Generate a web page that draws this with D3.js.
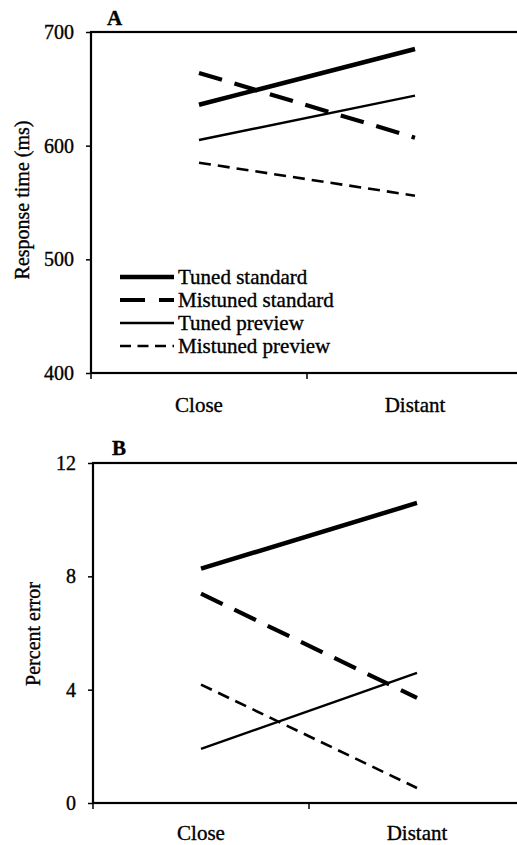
<!DOCTYPE html>
<html><head><meta charset="utf-8">
<script src="https://cdn.jsdelivr.net/npm/d3@7"></script>
<style>
body{margin:0;background:#fff;}
svg{display:block;}
text{font-family:"Liberation Serif","Times New Roman",serif;fill:#000;stroke:#000;stroke-width:0.35px;}
</style></head>
<body>
<script>
const categories = ["Close", "Distant"];
const seriesNames = ["Tuned standard", "Mistuned standard", "Tuned preview", "Mistuned preview"];
const rtValues = [[636, 685], [664, 607], [605, 644], [585, 556]];
const errValues = [[8.27, 10.59], [7.39, 3.71], [1.91, 4.59], [4.18, 0.53]];
const rtTicks = [400, 500, 600, 700];
const errTicks = [0, 4, 8, 12];

const styles = [
  {w: 4.5, dash: null},
  {w: 4.2, dash: "24,13"},
  {w: 2.4, dash: null},
  {w: 2.6, dash: "12,7"}
];

const svg = d3.select("body").append("svg").attr("width", 517).attr("height", 845);

function panel(cfg) {
  const g = svg.append("g");
  const x = d3.scaleBand().domain(categories).range([cfg.left, cfg.left + 432]);
  const y = d3.scaleLinear().domain(cfg.domain).range([cfg.bottom, cfg.top]);
  // frame
  g.append("rect").attr("x", cfg.left).attr("y", cfg.top)
    .attr("width", 440).attr("height", cfg.bottom - cfg.top)
    .attr("fill", "none").attr("stroke", "#000").attr("stroke-width", 2.2);
  // y axis
  const ya = g.append("g").attr("transform", `translate(${cfg.left},0)`)
    .call(d3.axisLeft(y).tickValues(cfg.ticks).tickSize(5).tickPadding(12));
  ya.select(".domain").remove();
  ya.selectAll("line").attr("stroke-width", 1.5);
  ya.selectAll("text").attr("font-size", 20);
  // x axis ticks at band boundaries
  const xa = g.append("g").attr("transform", `translate(0,${cfg.bottom})`);
  const bounds = [cfg.left, x("Distant")];
  xa.selectAll("line").data(bounds).join("line")
    .attr("x1", d => d).attr("x2", d => d).attr("y1", 0).attr("y2", 6)
    .attr("stroke", "#000").attr("stroke-width", 1.5);
  xa.selectAll("text").data(categories).join("text")
    .attr("x", d => x(d) + x.bandwidth() / 2).attr("y", cfg.catY - cfg.bottom)
    .attr("text-anchor", "middle").attr("font-size", 21).text(d => d);
  // panel letter
  g.append("text").attr("x", cfg.letterX).attr("y", cfg.letterY)
    .attr("font-size", 21).attr("font-weight", "bold").text(cfg.letter);
  // y title
  g.append("text").attr("transform", `translate(${cfg.titleX},${cfg.titleY}) rotate(-90)`)
    .attr("text-anchor", "middle").attr("font-size", 20).text(cfg.title);
  // lines
  const line = d3.line().x((d, i) => x(categories[i]) + x.bandwidth() / 2).y(d => y(d));
  cfg.values.forEach((vals, i) => {
    g.append("path").attr("d", line(vals)).attr("fill", "none")
      .attr("stroke", "#000").attr("stroke-width", styles[i].w)
      .attr("stroke-dasharray", styles[i].dash);
  });
  return {g, x, y};
}

const pA = panel({left: 91, top: 32, bottom: 373, domain: [400, 700], ticks: rtTicks,
  values: rtValues, catY: 412, letter: "A", letterX: 107, letterY: 25,
  title: "Response time (ms)", titleX: 29, titleY: 200});
const pB = panel({left: 93, top: 463, bottom: 803, domain: [0, 12], ticks: errTicks,
  values: errValues, catY: 840, letter: "B", letterX: 112, letterY: 455,
  title: "Percent error", titleX: 40, titleY: 634});

// legend in panel A
const leg = svg.append("g");
const legRows = [277, 300, 323, 346];
seriesNames.forEach((name, i) => {
  leg.append("line").attr("x1", 120).attr("x2", 174).attr("y1", legRows[i]).attr("y2", legRows[i])
    .attr("stroke", "#000").attr("stroke-width", styles[i].w)
    .attr("stroke-dasharray", i === 1 ? "25,14" : i === 3 ? "11,6.5" : null);
  leg.append("text").attr("x", 178).attr("y", legRows[i] + 7).attr("font-size", 21).text(name);
});
</script>
</body></html>
